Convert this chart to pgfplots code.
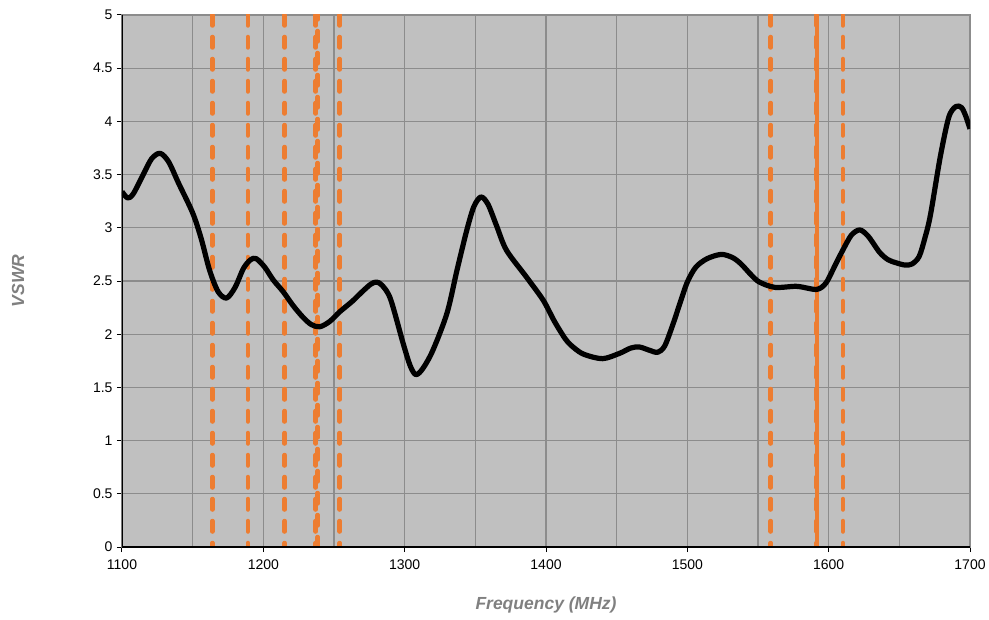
\documentclass[border=0pt]{standalone}
\usepackage{pgfplots}
\pgfplotsset{compat=1.18}
\usepackage{fontspec}
\setmainfont{Liberation Sans}

\definecolor{plotbg}{HTML}{C0C0C0}
\definecolor{gridgray}{HTML}{8C8C8C}
\definecolor{bandorange}{HTML}{ED7D31}
\definecolor{labelgray}{HTML}{808080}

% VSWR sweep of the antenna
\pgfplotstableread{
f     v
1100  3.34
1104  3.28
1108  3.32
1115  3.50
1121  3.65
1127  3.70
1133  3.62
1140  3.42
1150  3.14
1156  2.90
1162  2.60
1168  2.40
1174  2.34
1180  2.44
1186  2.62
1191  2.70
1195  2.71
1201  2.63
1207  2.51
1214  2.40
1221  2.27
1228  2.16
1234  2.09
1240  2.07
1247  2.12
1254  2.21
1263  2.31
1270  2.40
1276  2.47
1280  2.49
1284  2.46
1290  2.33
1299  1.91
1304  1.70
1308  1.62
1313  1.68
1320  1.85
1330  2.20
1337  2.60
1344  2.98
1349  3.20
1354  3.29
1359  3.22
1365  3.02
1372  2.79
1386  2.54
1398  2.32
1406  2.12
1414  1.95
1420  1.87
1427  1.81
1440  1.77
1452  1.82
1460  1.87
1466  1.88
1473  1.85
1479  1.83
1484  1.89
1490  2.10
1495  2.30
1500  2.49
1506  2.63
1514  2.71
1524  2.75
1532  2.72
1538  2.66
1545  2.56
1551  2.49
1562  2.44
1577  2.45
1586  2.43
1591  2.42
1595  2.44
1599  2.50
1605  2.66
1610  2.79
1616  2.93
1622  2.98
1628  2.92
1636  2.77
1642  2.70
1648  2.67
1654  2.65
1659  2.66
1664  2.73
1668  2.90
1672  3.12
1679  3.67
1685  4.04
1690  4.14
1694  4.13
1697  4.05
1700  3.93
}\vswr

\begin{document}
\begin{tikzpicture}
\begin{axis}[
  name=ax,
  scale only axis,
  width=848pt, height=532pt,
  xmin=1100, xmax=1700,
  ymin=0, ymax=5,
  xtick={1100,1200,...,1700},
  minor xtick={1150,1250,...,1650},
  ytick={0,0.5,...,5},
  yticklabels={0,0.5,1,1.5,2,2.5,3,3.5,4,4.5,5},
  grid=both,
  major grid style={draw=gridgray, line width=1.2pt},
  minor grid style={draw=gridgray, line width=1.2pt},
  minor tick length=0pt,
  major tick length=5pt,
  tick align=outside,
  xtick pos=bottom, ytick pos=left,
  tick style={black, line width=1pt},
  axis background/.style={fill=plotbg},
  axis line style={draw=gridgray, line width=1.2pt},
  /pgf/number format/assume math mode=true,
  /pgf/number format/1000 sep={},
  tick label style={font=\fontsize{14}{16}\selectfont, black},
  xticklabel style={yshift=-4pt},
  yticklabel style={xshift=-1pt},
  xlabel={\bfseries\itshape Frequency (MHz)},
  ylabel={\bfseries\itshape VSWR},
  label style={font=\fontsize{17.5}{20}\selectfont, text=labelgray},
  xlabel style={at={(axis description cs:0.5,-0.109)}, anchor=center},
  ylabel style={at={(axis description cs:-0.1226,0.5)}, anchor=center},
  clip=true,
]
% band edges
\pgfplotsset{band/.style={bandorange, line width=4.5pt, line cap=round,
  dash pattern=on 10.5pt off 11.5pt}}
\addplot[band] coordinates {(1164,5) (1164,0)};
\addplot[band] coordinates {(1189,5) (1189,0)};
\addplot[band] coordinates {(1215,5) (1215,0)};
\addplot[band] coordinates {(1237,5) (1237,0)};
\addplot[band, dash phase=6pt] coordinates {(1238.4,5) (1238.4,0)};
\addplot[band] coordinates {(1254,5) (1254,0)};
\addplot[band] coordinates {(1559,5) (1559,0)};
\addplot[band] coordinates {(1591.3,5) (1591.3,0)};
\addplot[band, dash phase=11pt] coordinates {(1591.6,5) (1591.6,0)};
\addplot[band] coordinates {(1610,5) (1610,0)};
% measured VSWR
\addplot[black, line width=5.2pt, smooth, tension=0.5, line join=round] table[x=f, y=v] {\vswr};
% dark left and bottom axis lines
\draw[black, line width=1.5pt] (rel axis cs:0,1) -- (rel axis cs:0,0) -- (rel axis cs:1,0);
\end{axis}
\pgfresetboundingbox
\path ([shift={(-122pt,-72pt)}]ax.south west) rectangle ([shift={(19pt,15pt)}]ax.north east);
\end{tikzpicture}
\end{document}
